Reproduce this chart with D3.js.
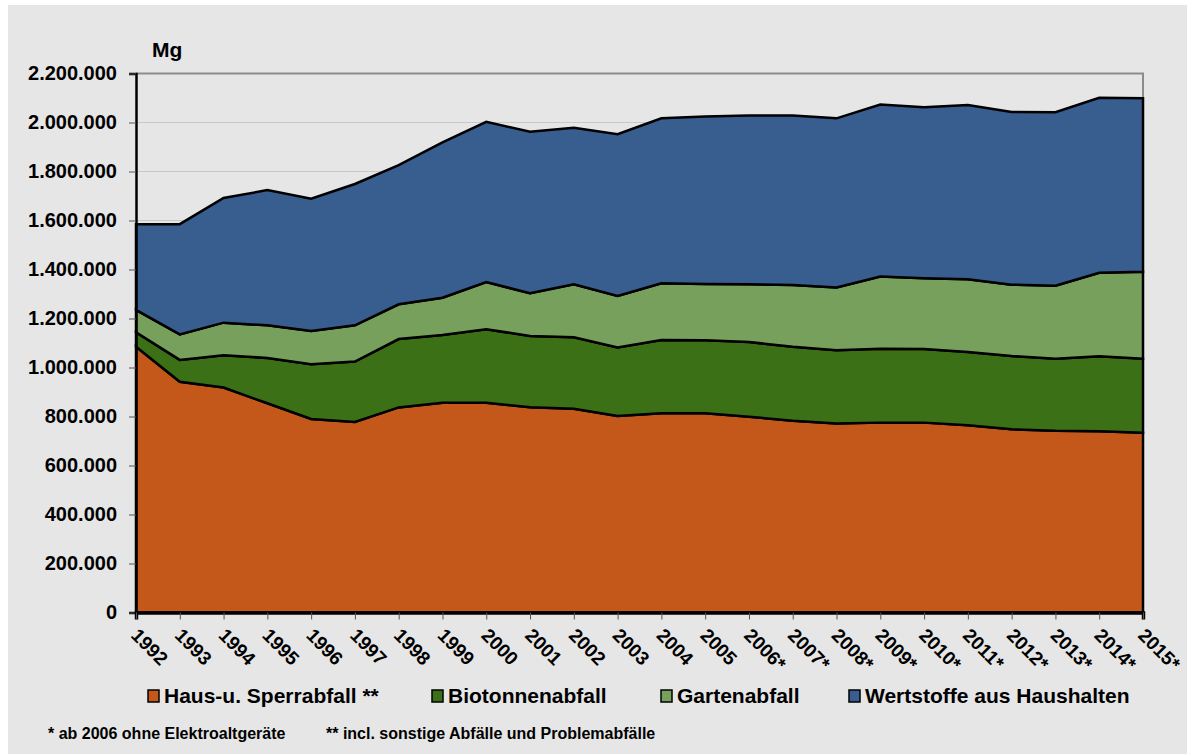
<!DOCTYPE html>
<html><head><meta charset="utf-8">
<script src="https://cdn.jsdelivr.net/npm/d3@7"></script>
<style>body{margin:0;background:#fff}svg text{font-family:"Liberation Sans",Arial,sans-serif;font-weight:bold;fill:#000}</style>
</head><body>
<svg id="c" width="1187" height="756"></svg>
<script>
const years = ["1992","1993","1994","1995","1996","1997","1998","1999","2000","2001","2002","2003","2004","2005","2006*","2007*","2008*","2009*","2010*","2011*","2012*","2013*","2014*","2015*"];
const hausSperr = [1085000,942000,918000,854000,790000,778000,837000,856000,856000,838000,832000,802000,813000,813000,799000,783000,771000,775000,775000,764000,748000,742000,740000,734000];
const biotonne = [59000,89000,132000,185000,223000,246000,279000,277000,300000,291000,291000,280000,299000,298000,305000,302000,299000,302000,301000,299000,299000,294000,306000,302000];
const garten = [91000,104000,133000,133000,136000,148000,142000,152000,193000,174000,217000,210000,232000,230000,236000,252000,257000,294000,288000,297000,291000,298000,341000,355000];
const wertstoffe = [350000,450000,509000,552000,540000,577000,568000,634000,654000,659000,639000,660000,673000,683000,689000,692000,690000,702000,698000,711000,705000,708000,714000,708000];
const seriesNames = ["Haus-u. Sperrabfall **","Biotonnenabfall","Gartenabfall","Wertstoffe aus Haushalten"];
const seriesColors = ["#c4581b","#3b7017","#76a05c","#385d8f"];
const yTicks = [0,200000,400000,600000,800000,1000000,1200000,1400000,1600000,1800000,2000000,2200000];
const unitLabel = "Mg";
const footnotes = ["* ab 2006 ohne Elektroaltgeräte","** incl. sonstige Abfälle und Problemabfälle"];

const svg = d3.select("#c");
svg.append("rect").attr("x",8).attr("y",5).attr("width",1179).attr("height",749).attr("fill","#e6e6e6");

const L=136,R=1143,T=73.5,B=612.5;
const x = d3.scalePoint().domain(years).range([L,R]);
const y = d3.scaleLinear().domain([0,2200000]).range([B,T]);
const de = d3.formatLocale({decimal:",",thousands:".",grouping:[3],currency:["","€"]});
const fmt = de.format(",d");

// gridlines
svg.append("g").selectAll("line").data(yTicks.filter(d=>d>0&&d<2200000)).join("line")
  .attr("x1",L).attr("x2",R).attr("y1",d=>y(d)).attr("y2",d=>y(d))
  .attr("stroke","#c8c8c8").attr("stroke-width",1);

// top & right border
svg.append("path").attr("d",`M${L},${T}H${R}V${B}`).attr("fill","none").attr("stroke","#8c8c8c").attr("stroke-width",2);

const table = years.map((yr,i)=>({year:yr,s0:hausSperr[i],s1:biotonne[i],s2:garten[i],s3:wertstoffe[i]}));
const stack = d3.stack().keys(["s0","s1","s2","s3"]);
const layers = stack(table);
const area = d3.area().x(d=>x(d.data.year)).y0(d=>y(d[0])).y1(d=>y(d[1]));
svg.append("g").selectAll("path").data(layers).join("path")
  .attr("d",area).attr("fill",(d,i)=>seriesColors[i])
  .attr("stroke","#000").attr("stroke-width",2.5).attr("stroke-linejoin","miter");

// y axis
const yAxis = svg.append("g").attr("transform",`translate(${L},0)`)
  .call(d3.axisLeft(y).tickValues(yTicks).tickFormat(fmt).tickSize(7).tickPadding(12));
yAxis.select(".domain").attr("stroke","#000").attr("stroke-width",2.5);
yAxis.selectAll(".tick line").attr("stroke","#555");
yAxis.selectAll("text").attr("font-size",20).attr("font-family","Liberation Sans, Arial, sans-serif").attr("font-weight","bold").attr("fill","#000");

// x axis
const xAxis = svg.append("g").attr("transform",`translate(0,${B})`)
  .call(d3.axisBottom(x).tickSize(7).tickFormat(""));
xAxis.select(".domain").attr("stroke","#000").attr("stroke-width",3.5);
xAxis.selectAll(".tick line").attr("stroke","#555");
svg.append("g").selectAll("text").data(years).join("text")
  .attr("transform",d=>`translate(${x(d)-6},${B+24}) rotate(45)`)
  .attr("font-size",19).text(d=>d);

// unit
svg.append("text").attr("x",152).attr("y",57).attr("font-size",21).text(unitLabel);

// legend
const legX = [148,432,661,849];
const lg = svg.append("g").selectAll("g").data(seriesNames).join("g")
  .attr("transform",(d,i)=>`translate(${legX[i]},690)`);
lg.append("rect").attr("width",11).attr("height",12).attr("fill",(d,i)=>seriesColors[i]).attr("stroke","#000").attr("stroke-width",1.5);
lg.append("text").attr("x",16).attr("y",13).attr("font-size",21).text(d=>d);

// footnotes
svg.append("text").attr("x",48).attr("y",739).attr("font-size",16).text(footnotes[0]);
svg.append("text").attr("x",326).attr("y",739).attr("font-size",16).text(footnotes[1]);
</script>
</body></html>
